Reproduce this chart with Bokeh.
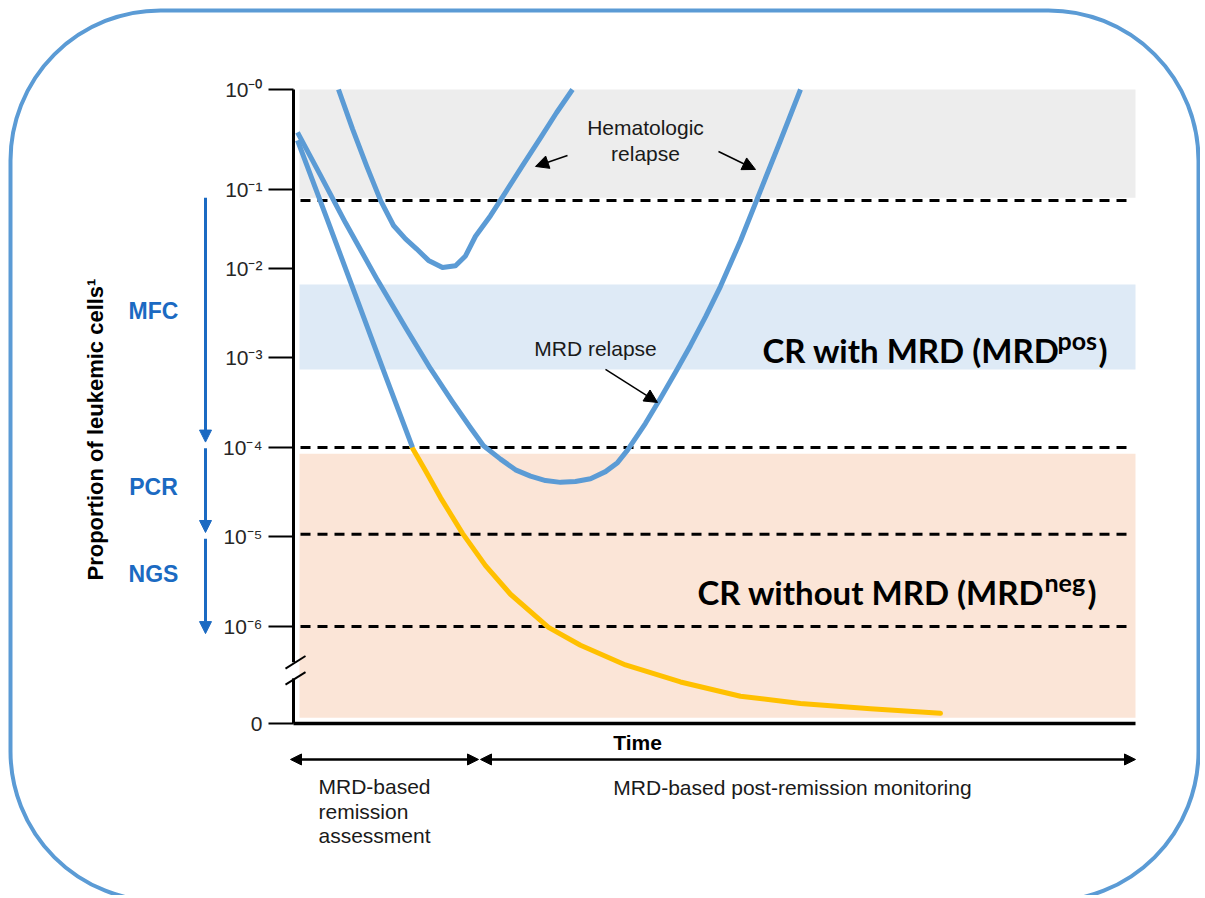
from bokeh.plotting import figure
from bokeh.models import Range1d, LinearAxis, FixedTicker, Arrow, NormalHead
from bokeh.core.properties import value
from bokeh.embed import file_html
from bokeh.resources import INLINE

# ---------------- data (time in days, level in log10 decades) ----------------
tick_levels = [0, -1.12, -2, -3, -4, -5, -6, -7.08]
tick_labels = ["10⁻⁰", "10⁻¹", "10⁻²", "10⁻³", "10⁻⁴", "10⁻⁵", "10⁻⁶", "0"]

threshold_levels = [-1.24, -4.0, -4.97, -6.0]

band_top = [0.0, -2.18, -4.07]
band_bottom = [-1.21, -3.13, -7.02]
band_colors = ["#EDEDED", "#DEEAF6", "#FBE5D7"]

steep_t = [4, 34, 64, 92, 119]
steep_level = [-0.57, -1.46, -2.36, -3.20, -4.0]

mrdneg_t = [118, 132, 147, 169, 192, 217, 255, 287, 332, 387, 447, 507, 577, 647]
mrdneg_level = [-3.99, -4.26, -4.56, -4.96, -5.32, -5.64, -6.01, -6.21, -6.43,
                -6.62, -6.78, -6.86, -6.92, -6.97]

mrdrel_t = [4, 27, 52, 84, 112, 137, 159, 177, 190, 207, 222, 237, 252, 267, 282,
            297, 312, 324, 334, 352, 367, 382, 397, 412, 427, 447, 467, 487, 507]
mrdrel_level = [-0.48, -0.96, -1.49, -2.13, -2.66, -3.12, -3.49, -3.78, -3.98, -4.13,
                -4.25, -4.32, -4.37, -4.39, -4.38, -4.35, -4.27, -4.17, -4.03, -3.73,
                -3.45, -3.16, -2.86, -2.54, -2.20, -1.69, -1.13, -0.57, 0.0]

hemrel_t = [45, 59, 73, 87, 100, 112, 123, 135, 149, 162, 172, 182, 197, 212, 229,
            247, 263, 279]
hemrel_level = [0.0, -0.44, -0.85, -1.24, -1.52, -1.67, -1.78, -1.91, -1.99, -1.97,
                -1.86, -1.64, -1.41, -1.15, -0.85, -0.54, -0.26, 0.0]

method_names = ["MFC", "PCR", "NGS"]
method_label_levels = [-2.48, -4.44, -5.41]
method_arrow_start = [-1.21, -4.01, -5.02]
method_arrow_end = [-3.94, -4.95, -6.08]

T_END = 842
ZERO = -7.08

ARIAL = value("Liberation Sans")
CAL = value("Lato")
BLUE = "#5B9BD5"
MBLUE = "#1B6AC2"

p = figure(width=1200, height=895, x_range=Range1d(-293, 907),
           y_range=Range1d(-9.006, 0.994), output_backend="svg",
           toolbar_location=None, x_axis_location=None, y_axis_location=None,
           min_border=0, outline_line_color=None)
p.grid.visible = False

# rounded frame
p.quad(left=[-283], right=[905], top=[0.883], bottom=[-9.07], fill_color=None,
       line_color=BLUE, line_width=4, border_radius=150)

# bands
p.quad(left=6, right=T_END, top=band_top, bottom=band_bottom, fill_color=band_colors,
       line_color=None)

# threshold dashed lines
p.segment(x0=7, x1=837, y0=threshold_levels, y1=threshold_levels, line_color="black",
          line_width=3, line_dash="10 7")

# curves
p.line(mrdneg_t, mrdneg_level, line_color="#FFC000", line_width=5, line_join="round",
       line_cap="round")
for xs, ys in [(steep_t, steep_level), (mrdrel_t, mrdrel_level), (hemrel_t, hemrel_level)]:
    p.line(xs, ys, line_color=BLUE, line_width=5, line_join="round")

# axes
yaxis = LinearAxis(fixed_location=0, bounds=(ZERO, 0),
                   ticker=FixedTicker(ticks=tick_levels),
                   major_label_overrides={t: l for t, l in zip(tick_levels, tick_labels)},
                   axis_line_width=3, axis_line_color="black",
                   major_tick_out=25, major_tick_in=0, major_tick_line_width=2,
                   minor_tick_out=0, minor_tick_in=0,
                   major_label_standoff=6, major_label_text_font="Liberation Sans",
                   major_label_text_font_size="21px", major_label_text_color="#262626")
p.add_layout(yaxis, "left")
xaxis = LinearAxis(fixed_location=ZERO, bounds=(0, T_END), ticker=FixedTicker(ticks=[]),
                   axis_line_width=3.5, axis_line_color="black",
                   major_tick_out=0, major_tick_in=0, minor_tick_out=0, minor_tick_in=0,
                   major_label_text_font_size="0px")
p.add_layout(xaxis, "below")

# axis break
p.quad(left=[-4], right=[4], top=[-6.40], bottom=[-6.58], fill_color="white",
       line_color=None, level="overlay")
p.segment(x0=[-8, -8], x1=[12, 12], y0=[-6.47, -6.65], y1=[-6.33, -6.51],
          line_color="black", line_width=2, level="overlay")

# annotation arrows
for xs, ys, xe, ye in [(274, -0.737, 242, -0.860), (425, -0.693, 462, -0.894),
                       (312, -3.128, 364, -3.497)]:
    p.add_layout(Arrow(x_start=xs, y_start=ys, x_end=xe, y_end=ye, line_width=1.5,
                       end=NormalHead(size=13, fill_color="black", line_color="black")))

# time arrows
for xs, xe in [(-3, 185), (187, 842)]:
    p.add_layout(Arrow(x_start=xs, y_start=-7.486, x_end=xe, y_end=-7.486, line_width=2.5,
                       start=NormalHead(size=11, fill_color="black", line_color="black"),
                       end=NormalHead(size=11, fill_color="black", line_color="black")))

# method arrows
for ys, ye in zip(method_arrow_start, method_arrow_end):
    p.add_layout(Arrow(x_start=-88, y_start=ys, x_end=-88, y_end=ye, line_width=3,
                       line_color=MBLUE,
                       end=NormalHead(size=12, fill_color=MBLUE, line_color=MBLUE)))

p.text(x=[-140] * 3, y=method_label_levels, text=method_names, text_font=ARIAL,
       text_font_style="bold", text_font_size="23px", text_color=MBLUE,
       text_align="center", text_baseline="middle")

# texts
p.text(x=[352, 352], y=[-0.425, -0.715], text=["Hematologic", "relapse"], text_font=ARIAL,
       text_font_size="21px", text_color="#1a1a1a", text_align="center",
       text_baseline="middle")
p.text(x=[302], y=[-2.894], text=["MRD relapse"], text_font=ARIAL, text_font_size="21px",
       text_color="#1a1a1a", text_align="center", text_baseline="middle")

p.text(x=[469], y=[-2.916], text=["CR with MRD (MRD"], text_font=CAL,
       text_font_style="bold", text_font_size="33px", text_color="black",
       text_baseline="alphabetic")
p.text(x=[764], y=[-2.804], text=["pos"], text_font=CAL, text_font_style="bold",
       text_font_size="25px", text_color="black", text_baseline="alphabetic")
p.text(x=[805], y=[-2.916], text=[")"], text_font=CAL, text_font_style="bold",
       text_font_size="33px", text_color="black", text_baseline="alphabetic")

p.text(x=[404], y=[-5.620], text=["CR without MRD (MRD"], text_font=CAL,
       text_font_style="bold", text_font_size="33px", text_color="black",
       text_baseline="alphabetic")
p.text(x=[751], y=[-5.508], text=["neg"], text_font=CAL, text_font_style="bold",
       text_font_size="25px", text_color="black", text_baseline="alphabetic")
p.text(x=[794], y=[-5.620], text=[")"], text_font=CAL, text_font_style="bold",
       text_font_size="33px", text_color="black", text_baseline="alphabetic")

p.text(x=[-198], y=[-3.80], text=["Proportion of leukemic cells¹"], angle=1.5708,
       text_font=ARIAL, text_font_style="bold", text_font_size="22px", text_color="black",
       text_align="center", text_baseline="middle")

p.text(x=[344], y=[-7.296], text=["Time"], text_font=ARIAL, text_font_style="bold",
       text_font_size="21px", text_color="black", text_align="center",
       text_baseline="middle")
p.text(x=[25, 25, 25], y=[-7.788, -8.067, -8.335],
       text=["MRD-based", "remission", "assessment"], text_font=ARIAL,
       text_font_size="21px", text_color="#1a1a1a", text_baseline="middle")
p.text(x=[499], y=[-7.799], text=["MRD-based post-remission monitoring"], text_font=ARIAL,
       text_font_size="21px", text_color="#1a1a1a", text_align="center",
       text_baseline="middle")

open("out.html", "w").write(file_html(p, INLINE))
